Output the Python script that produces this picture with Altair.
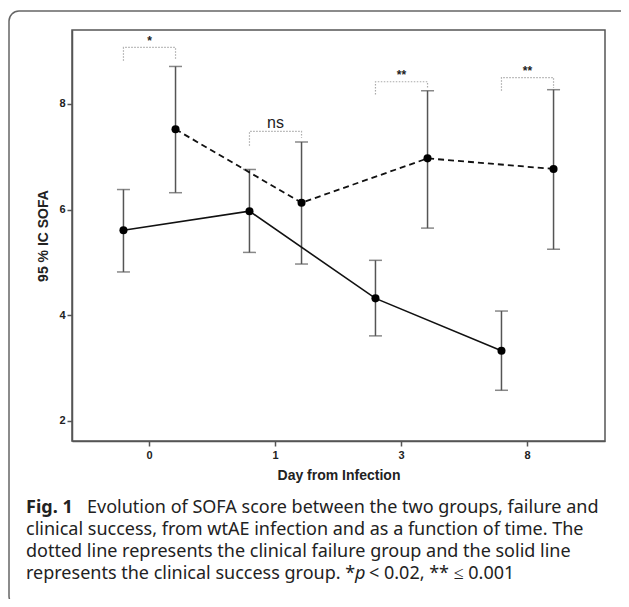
import altair as alt
import pandas as pd

days = ["0", "1", "3", "8"]
groups = ["success", "failure"]

success_mean = [5.61, 5.97, 4.32, 3.33]
success_low = [4.82, 5.19, 3.61, 2.58]
success_high = [6.38, 6.76, 5.04, 4.08]

failure_mean = [7.52, 6.13, 6.97, 6.77]
failure_low = [6.32, 4.97, 5.65, 5.25]
failure_high = [8.71, 7.28, 8.25, 8.27]

sig_labels = ["*", "ns", "**", "**"]
bracket_top = [9.07, 7.48, 8.42, 8.50]
bracket_left_foot = [8.82, 7.21, 8.18, 8.25]
bracket_right_foot = [8.85, 7.36, 8.29, 8.30]
label_y = [9.19, 7.64, 8.55, 8.63]

y_ticks = [2, 4, 6, 8]
y_domain = [1.62, 9.40]

caption_bold = "Fig. 1"
caption_line1 = "Evolution of SOFA score between the two groups, failure and"
caption_line2 = "clinical success, from wtAE infection and as a function of time. The"
caption_line3 = "dotted line represents the clinical failure group and the solid line"
caption_line4a = "represents the clinical success group. *"
caption_line4b = "p"
caption_line4c = "< 0.02, ** \u2264 0.001"

rows = []
for i, d in enumerate(days):
    rows.append({"day": d, "group": "success", "mean": success_mean[i],
                 "low": success_low[i], "high": success_high[i]})
    rows.append({"day": d, "group": "failure", "mean": failure_mean[i],
                 "low": failure_low[i], "high": failure_high[i]})
df = pd.DataFrame(rows)

brows = []
for i, d in enumerate(days):
    brows += [
        {"day": d, "group": "success", "y": bracket_left_foot[i], "k": 0, "b": d},
        {"day": d, "group": "success", "y": bracket_top[i], "k": 1, "b": d},
        {"day": d, "group": "failure", "y": bracket_top[i], "k": 2, "b": d},
        {"day": d, "group": "failure", "y": bracket_right_foot[i], "k": 3, "b": d},
    ]
bdf = pd.DataFrame(brows)
ldf = pd.DataFrame({"day": days, "label": sig_labels, "y": label_y})

AX_FONT = "Liberation Sans"
xscale = alt.Scale(domain=days, paddingInner=0, paddingOuter=0.115)
xoff = alt.Scale(type="point", domain=groups, padding=0.71)
yscale = alt.Scale(domain=y_domain, nice=False, zero=False)

axis_common = dict(domainColor="#555", tickColor="#555", domainWidth=1.5, tickWidth=1.5,
                   tickSize=5, labelFont=AX_FONT, labelFontSize=11, labelFontWeight="bold",
                   labelColor="#222", titleFont=AX_FONT, titleFontSize=14,
                   titleFontWeight="bold", titleColor="#222")
X = alt.X("day:N", scale=xscale, sort=days,
          axis=alt.Axis(title="Day from Infection", labelAngle=0, labelPadding=3,
                        titlePadding=8, **axis_common))
XO = alt.XOffset("group:N", scale=xoff, sort=groups)
Y = alt.Y("mean:Q", scale=yscale,
          axis=alt.Axis(title="95 % IC SOFA", values=y_ticks, grid=False,
                        labelPadding=2, titlePadding=8, **axis_common))

base = alt.Chart(df)

bars = base.mark_rule(color="#555", strokeWidth=1.5).encode(
    x=X, xOffset=XO, y=alt.Y("low:Q", scale=yscale), y2="high:Q")
cap_hi = base.mark_tick(color="#555", size=13, thickness=1.5, orient="horizontal").encode(
    x=X, xOffset=XO, y=alt.Y("high:Q", scale=yscale))
cap_lo = base.mark_tick(color="#555", size=13, thickness=1.5, orient="horizontal").encode(
    x=X, xOffset=XO, y=alt.Y("low:Q", scale=yscale))

line_s = alt.Chart(df[df.group == "success"]).mark_line(color="#111", strokeWidth=1.6).encode(
    x=X, xOffset=XO, y=Y)
line_f = alt.Chart(df[df.group == "failure"]).mark_line(
    color="#111", strokeWidth=1.8, strokeDash=[6, 4]).encode(x=X, xOffset=XO, y=Y)
pts = base.mark_circle(color="#000", size=65, opacity=1).encode(x=X, xOffset=XO, y=Y)

brackets = alt.Chart(bdf).mark_line(color="#aaa", strokeWidth=1.2, strokeDash=[1.5, 1.5]).encode(
    x=X, xOffset=XO, y=alt.Y("y:Q", scale=yscale), detail="b:N", order="k:Q")

lab_stars = alt.Chart(ldf[ldf.label != "ns"]).mark_text(
    font=AX_FONT, fontSize=12, fontWeight="bold", color="#222", baseline="middle").encode(
    x=X, y=alt.Y("y:Q", scale=yscale), text="label:N")
lab_ns = alt.Chart(ldf[ldf.label == "ns"]).mark_text(
    font=AX_FONT, fontSize=16, color="#222", baseline="middle").encode(
    x=X, y=alt.Y("y:Q", scale=yscale), text="label:N")

one = pd.DataFrame({"a": [0]})
frame = alt.Chart(one).mark_rect(fill="transparent", stroke="#666", strokeWidth=1.5,
                                 cornerRadius=10).encode(
    x=alt.value(-63), x2=alt.value(560), y=alt.value(-19), y2=alt.value(576))

CF = "Noto Sans"
CS = 18
def cap(text, x, y, weight="normal", style="normal"):
    return alt.Chart(one).mark_text(text=text, font=CF, fontSize=CS, fontWeight=weight,
                                    fontStyle=style, align="left", baseline="middle",
                                    color="#222").encode(x=alt.value(x), y=alt.value(y))

captions = [
    cap(caption_bold, -46, 478, weight="bold"),
    cap(caption_line1, 15, 478),
    cap(caption_line2, -46, 500),
    cap(caption_line3, -46, 522),
    cap(caption_line4a, -46, 544),
    cap(caption_line4b, 283, 544, style="italic"),
    cap(caption_line4c, 297, 544),
]

chart = alt.layer(frame, brackets, bars, cap_hi, cap_lo, line_s, line_f, pts,
                  lab_stars, lab_ns, *captions).properties(
    width=533, height=411,
    background="white",
    autosize=alt.AutoSizeParams(type="none"),
    padding={"left": 64, "top": 22, "right": 16, "bottom": 158},
).configure_view(stroke="#555", strokeWidth=1.5)

chart.save("out.html", embed_options={"renderer": "svg", "actions": False})
